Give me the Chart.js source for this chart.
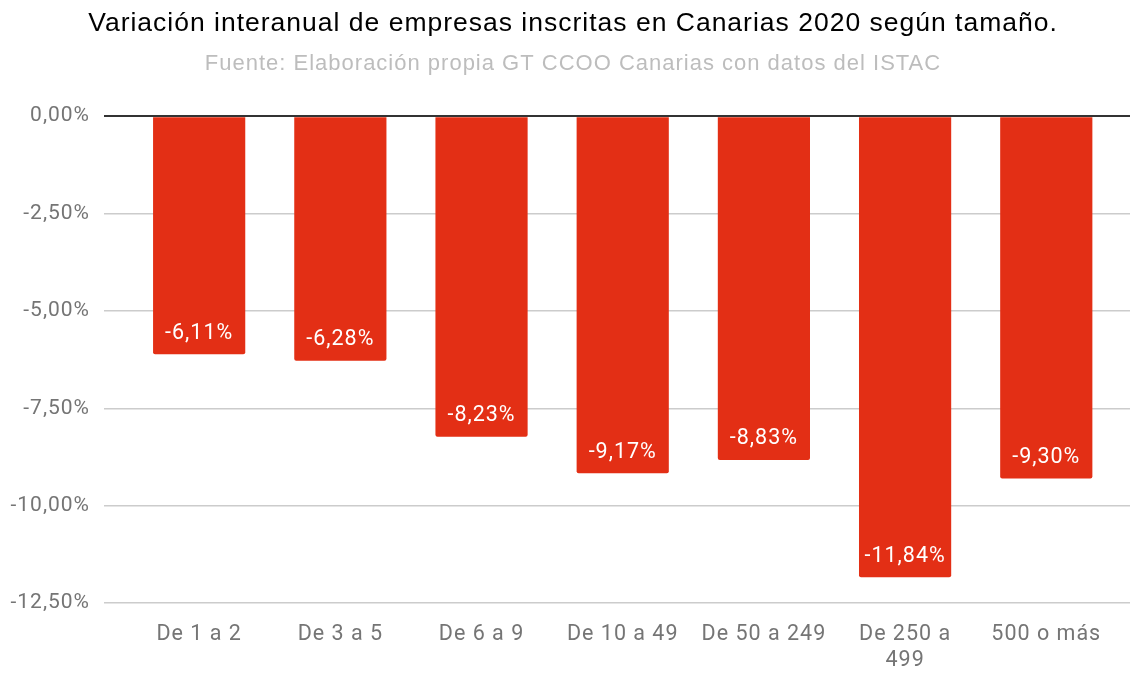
<!DOCTYPE html>
<html lang="es">
<head>
<meta charset="utf-8">
<title>Variación interanual de empresas inscritas en Canarias 2020</title>
<script src="https://cdn.jsdelivr.net/npm/chart.js@4.4.1/dist/chart.umd.min.js"></script>
<style>
    html, body { margin: 0; padding: 0; background: #fff; }
    #chart-box { width: 1130px; height: 675px; overflow: hidden; }
</style>
</head>
<body>
<div id="chart-box"><canvas id="chart" width="1130" height="675"></canvas></div>
<script>
// Datos: variación interanual (%) por tamaño de empresa
const categories = ['De 1 a 2', 'De 3 a 5', 'De 6 a 9', 'De 10 a 49', 'De 50 a 249', 'De 250 a 499', '500 o más'];
const variation = [-6.11, -6.28, -8.23, -9.17, -8.83, -11.84, -9.30];
const yTicks = [0, -2.5, -5, -7.5, -10, -12.5];

const titleText = 'Variación interanual de empresas inscritas en Canarias 2020 según tamaño.';
const subtitleText = 'Fuente: Elaboración propia GT CCOO Canarias con datos del ISTAC';

const FONT = 'Roboto, "Noto Sans", sans-serif';
const TITLE_FONT = '"Liberation Sans", Arial, sans-serif';

// formato español: coma decimal
function pct(v) {
    return v.toFixed(2).replace('.', ',') + '%';
}

// parte etiquetas largas en dos líneas
function wrapLabel(label) {
    if (label.length <= 11) return label;
    const cut = label.lastIndexOf(' ');
    return [label.slice(0, cut), label.slice(cut + 1)];
}

// el texto del original es algo más ancho: un poco de espaciado
const wideText = {
    id: 'wideText',
    beforeUpdate(chart) { chart.ctx.letterSpacing = '1px'; },
    beforeDraw(chart) { chart.ctx.letterSpacing = '1px'; }
};

// etiquetas blancas dentro del extremo de cada barra
const barLabels = {
    id: 'barLabels',
    afterDatasetsDraw(chart) {
        const ctx = chart.ctx;
        const meta = chart.getDatasetMeta(0);
        ctx.save();
        ctx.font = '21.5px ' + FONT;
        ctx.fillStyle = '#ffffff';
        ctx.textAlign = 'center';
        ctx.textBaseline = 'middle';
        meta.data.forEach((bar, i) => {
            ctx.fillText(pct(variation[i]), bar.x, bar.y - 21);
        });
        ctx.restore();
    }
};

new Chart(document.getElementById('chart'), {
    type: 'bar',
    data: {
        datasets: [{
            data: variation.map((v, i) => ({ x: i, y: v })),
            backgroundColor: '#e32f15',
            borderRadius: 2,
            borderSkipped: 'start',
            barPercentage: 0.653,
            categoryPercentage: 1
        }]
    },
    options: {
        responsive: false,
        devicePixelRatio: 1,
        animation: false,
        // padding derecho negativo: centra el título como en el original
        layout: { padding: { left: 8, right: -8, top: 0, bottom: 3 } },
        plugins: {
            legend: { display: false },
            tooltip: { enabled: false },
            title: {
                display: true,
                text: titleText,
                color: '#000000',
                font: { family: TITLE_FONT, size: 26.5, weight: 'normal' },
                padding: { top: 8, bottom: 11 }
            },
            subtitle: {
                display: true,
                text: subtitleText,
                color: '#bdbdbd',
                font: { family: TITLE_FONT, size: 22, weight: 'normal' },
                padding: { top: 0, bottom: 39 }
            }
        },
        scales: {
            x: {
                type: 'linear',
                offset: false,
                min: -0.674,
                max: 6.593,
                grid: { display: false },
                border: { display: false },
                afterBuildTicks(scale) {
                    scale.ticks = categories.map((c, i) => ({ value: i }));
                },
                afterFit(scale) {
                    scale.height = 69;
                },
                ticks: {
                    color: '#757575',
                    font: { family: FONT, size: 21.5 },
                    padding: 11,
                    maxRotation: 0,
                    autoSkip: false,
                    callback: (value) => wrapLabel(categories[value])
                }
            },
            y: {
                min: -12.5,
                max: 0,
                afterBuildTicks(scale) {
                    scale.ticks = yTicks.map(v => ({ value: v }));
                },
                afterFit(scale) {
                    scale.width = 96;
                },
                grid: {
                    drawTicks: false,
                    color: (c) => c.tick && c.tick.value === 0 ? '#333333' : '#cccccc',
                    lineWidth: (c) => c.tick && c.tick.value === 0 ? 2 : 1.5
                },
                border: { display: false },
                ticks: {
                    color: '#757575',
                    font: { family: FONT, size: 21 },
                    padding: 14,
                    callback: (value) => pct(value)
                }
            }
        }
    },
    plugins: [wideText, barLabels]
});
</script>
</body>
</html>
